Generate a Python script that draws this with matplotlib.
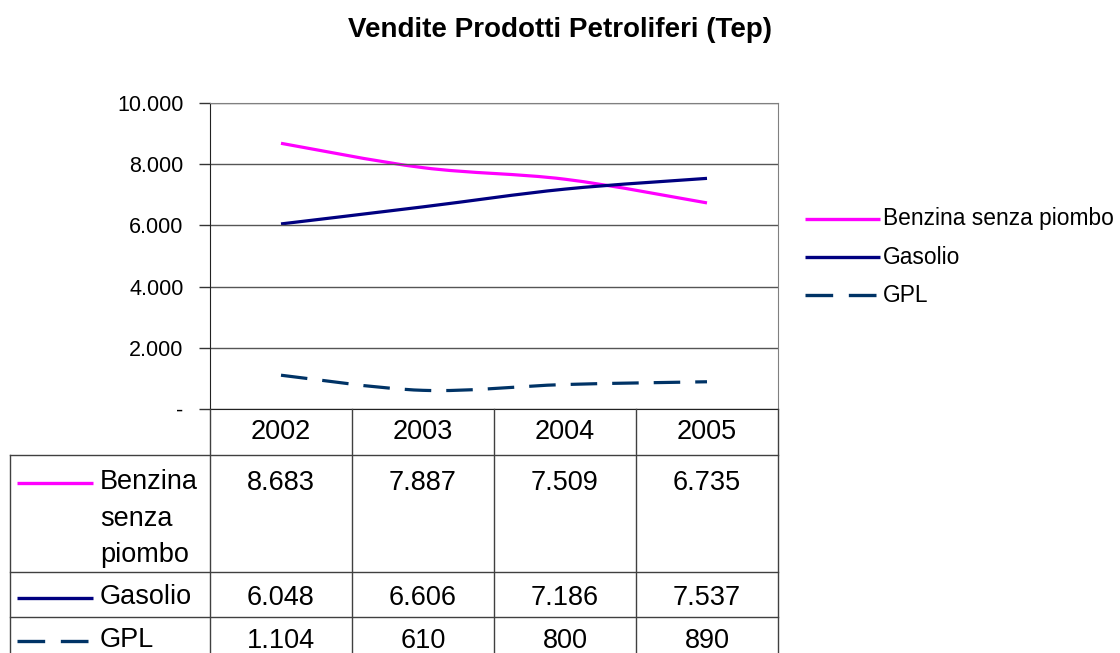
import matplotlib.pyplot as plt
from matplotlib.path import Path
from matplotlib.patches import PathPatch
import numpy as np

plt.rcParams['font.family'] = ['Liberation Sans', 'DejaVu Sans']

# dati
anni = ['2002', '2003', '2004', '2005']
benzina = [8683, 7887, 7509, 6735]
gasolio = [6048, 6606, 7186, 7537]
gpl = [1104, 610, 800, 890]
serie = ['Benzina senza piombo', 'Gasolio', 'GPL']
etichette_tabella = ['Benzina\nsenza\npiombo', 'Gasolio', 'GPL']
colori = ['#FF00FF', '#000080', '#003366']
tratti = ['-', '-', (0, (8.3, 4.7))]
yticks = [0, 2000, 4000, 6000, 8000, 10000]


def fmt(v):
    if v == 0:
        return '-'
    return f"{v:,}".replace(",", ".")


def curva_liscia(xs, ys):
    # spline tipo Excel (Catmull-Rom come Bezier cubiche)
    p = np.column_stack([xs, ys]).astype(float)
    ext = np.vstack([p[0], p, p[-1]])
    verts = [p[0]]
    codes = [Path.MOVETO]
    for i in range(len(p) - 1):
        p0, p1, p2, p3 = ext[i], ext[i + 1], ext[i + 2], ext[i + 3]
        verts += [p1 + (p2 - p0) / 6, p2 - (p3 - p1) / 6, p2]
        codes += [Path.CURVE4] * 3
    return Path(verts, codes)


W, H = 1120, 653
fig = plt.figure(figsize=(W / 100, H / 100), dpi=100)

# area del grafico
ax = fig.add_axes([210 / W, 1 - 409 / H, (778 - 210) / W, (409 - 103) / H])
xs = np.arange(len(anni))
for vals, col, ls in zip([benzina, gasolio, gpl], colori, tratti):
    ax.add_patch(PathPatch(curva_liscia(xs, vals), fill=False, edgecolor=col,
                           lw=2.3, linestyle=ls, capstyle='butt', joinstyle='round'))
ax.set_xlim(-0.5, len(anni) - 0.5)
ax.set_ylim(0, 10000)
ax.set_yticks(yticks)
ax.set_yticklabels([fmt(v) for v in yticks], fontsize=15.5)
ax.set_xticks([])
ax.tick_params(axis='y', direction='out', length=8, width=1, color='#333333', pad=11)
ax.grid(axis='y', color='#555555', lw=1)
for s in ['top', 'right']:
    ax.spines[s].set_color('#808080')
ax.spines['left'].set_color('#222222')
ax.spines['bottom'].set_color('#222222')

fig.text(560 / W, 1 - 30 / H, 'Vendite Prodotti Petroliferi (Tep)', ha='center', va='center',
         fontsize=20, fontweight='bold')

# tabella dati e legenda (coordinate in pixel)
ov = fig.add_axes([0, 0, 1, 1])
ov.set_xlim(0, W)
ov.set_ylim(H, 0)
ov.axis('off')

col_x = [210, 352, 494, 636, 778]
righe_y = [455, 572, 617]
lc = '#404040'
ov.plot([210, 210], [409, H], color=lc, lw=1)
for cx in col_x[1:]:
    ov.plot([cx, cx], [409, H], color=lc, lw=1)
ov.plot([10, 10], [455, H], color=lc, lw=1)
for ry in righe_y:
    ov.plot([10, 778], [ry, ry], color=lc, lw=1)

centri = [(col_x[i] + col_x[i + 1]) / 2 for i in range(len(anni))]
for cx, a in zip(centri, anni):
    ov.text(cx, 432, a, ha='center', va='center', fontsize=19.5)

valori = [benzina, gasolio, gpl]
testo_y = [483, 598, 641]
for vals, ty, lab, col, ls in zip(valori, testo_y, etichette_tabella, colori, tratti):
    for cx, v in zip(centri, vals):
        ov.text(cx, ty, fmt(v), ha='center', va='center', fontsize=19.5)
    ov.plot([17, 93], [ty, ty], color=col, lw=2.4, linestyle=ls, solid_capstyle='butt',
            dash_capstyle='butt')
    ov.text(100, ty - 14, lab, ha='left', va='top', fontsize=19.5, linespacing=1.53)

# legenda
leg_y = [219, 257, 295]
for nome, ly, col, ls in zip(serie, leg_y, colori, tratti):
    ov.plot([805, 880], [ly, ly], color=col, lw=2.4, linestyle=ls, solid_capstyle='butt',
            dash_capstyle='butt')
    ov.text(883, ly, nome, ha='left', va='center', fontsize=16.4)

fig.savefig('out.png', dpi=100)
